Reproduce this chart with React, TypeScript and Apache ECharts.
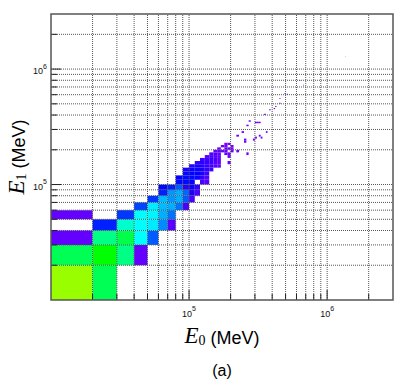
import React, { useEffect, useRef } from 'react';
import * as echarts from 'echarts';

// Histogram binning (MeV)
const BIN_WIDTH = 1e4;
const X_MIN = 1e4;
const X_MAX = 3e6;
const Y_MIN = 1e4;
const Y_MAX = 3e6;

// Grid-line / tick values (log axes, decades 1..9)
const gridValuesX = [2e4, 3e4, 4e4, 5e4, 6e4, 7e4, 8e4, 9e4, 1e5, 2e5, 3e5, 4e5, 5e5, 6e5, 7e5, 8e5, 9e5, 1e6, 2e6];
const gridValuesY = [2e4, 3e4, 4e4, 5e4, 6e4, 7e4, 8e4, 9e4, 1e5, 2e5, 3e5, 4e5, 5e5, 6e5, 7e5, 8e5, 9e5, 1e6, 2e6];
const majorTickValues = [1e5, 1e6];

// Cells: [E0 bin index, E1 bin index, content (relative)]; bin k spans [k*1e4, (k+1)*1e4) MeV
const cellsLow: number[][] = [
  [1, 1, 70], [2, 1, 50],
  [1, 2, 50], [2, 2, 57], [3, 2, 46], [4, 2, 6],
  [1, 3, 6], [2, 3, 46], [3, 3, 51], [4, 3, 36], [5, 3, 22],
  [2, 4, 17], [3, 4, 40], [4, 4, 36], [5, 4, 34], [6, 4, 26], [7, 4, 7],
  [1, 5, 6], [3, 5, 19], [4, 5, 36], [5, 5, 35], [6, 5, 29], [7, 5, 24],
];
const cellsRidge: number[][] = [
  [4, 6, 20], [5, 6, 34], [6, 6, 30], [7, 6, 29], [8, 6, 24], [9, 6, 8],
  [5, 7, 19], [6, 7, 30], [7, 7, 27], [8, 7, 29], [9, 7, 22], [10, 7, 8],
  [6, 8, 17], [7, 8, 27], [8, 8, 29], [9, 8, 23], [10, 8, 12], [11, 8, 8],
  [6, 9, 15], [7, 9, 17], [8, 9, 22], [9, 9, 11], [10, 9, 13], [11, 9, 10],
  [8, 10, 15], [9, 10, 15], [10, 10, 14], [12, 10, 8], [13, 10, 7],
  [8, 11, 14], [9, 11, 15], [10, 11, 15], [11, 11, 13], [12, 11, 10], [13, 11, 7],
  [9, 12, 15], [10, 12, 14], [11, 12, 14], [12, 12, 12], [13, 12, 9],
  [9, 13, 12], [10, 13, 14], [11, 13, 13], [12, 13, 12], [13, 13, 10], [14, 13, 9],
  [10, 14, 11], [11, 14, 13], [12, 14, 11], [13, 14, 10], [14, 14, 9], [15, 14, 7], [16, 14, 6],
  [11, 15, 10], [12, 15, 11], [13, 15, 10], [14, 15, 9], [15, 15, 7], [16, 15, 6], [19, 15, 5],
  [12, 16, 9], [13, 16, 9], [14, 16, 9], [15, 16, 8], [16, 16, 6],
  [13, 17, 7], [14, 17, 8], [15, 17, 7], [16, 17, 6], [19, 17, 5],
  [14, 18, 7], [15, 18, 8], [16, 18, 6], [18, 18, 5], [19, 18, 5], [26, 18, 5],
  [15, 19, 6], [16, 19, 7], [17, 19, 5], [18, 19, 6], [20, 19, 5], [22, 19, 5],
  [16, 20, 5], [18, 20, 5], [19, 20, 5], [20, 20, 4],
  [17, 21, 5], [18, 21, 4], [20, 21, 5],
  [18, 22, 4], [19, 22, 4],
];
const cellsHigh: number[][] = [
  [25, 23, 5], [25, 24, 5], [29, 24, 5], [30, 25, 5], [33, 25, 5], [22, 26, 5], [32, 26, 5],
  [24, 28, 5], [36, 28, 5], [26, 32, 5], [30, 34, 5], [31, 34, 5], [32, 34, 5], [27, 35, 5],
  [35, 40, 5], [38, 44, 5], [41, 45, 5], [42, 47, 5], [45, 50, 5], [45, 55, 5],
  [51, 60, 5], [49, 61, 5], [67, 72, 4], [63, 79, 4], [74, 84, 4], [135, 128, 3], [173, 191, 2],
];

// ROOT "pretty" palette (violet -> red)
const palette = ['#aa00ff', '#5500ff', '#0000ff', '#0055ff', '#00aaff', '#00ffff', '#00ffaa', '#00ff55',
  '#00ff00', '#55ff00', '#aaff00', '#ffff00', '#ffaa00', '#ff5500', '#ff0000'];

const SANS = 'Liberation Sans';
const SERIF = 'Liberation Serif';

function powLabel(v: number, minV: number) {
  const e = Math.log10(v);
  if (v <= minV * 1.01 || Math.abs(e - Math.round(e)) > 1e-6) return '';
  return `{b|10}{s|${Math.round(e)}}`;
}

const labelRich = {
  b: { fontSize: 9, fontFamily: SANS, color: '#111', lineHeight: 13, verticalAlign: 'bottom' },
  s: { fontSize: 7, fontFamily: SANS, color: '#111', lineHeight: 13, verticalAlign: 'top' },
};

const nameRich = {
  e: { fontSize: 23, fontFamily: SERIF, fontStyle: 'italic', color: '#000', lineHeight: 24, verticalAlign: 'middle' },
  sub: { fontSize: 14, fontFamily: SERIF, color: '#000', lineHeight: 14, verticalAlign: 'bottom' },
  u: { fontSize: 18, fontFamily: SANS, color: '#000', lineHeight: 20, verticalAlign: 'bottom' },
};

export default function App() {
  const ref = useRef<HTMLDivElement>(null);
  useEffect(() => {
    if (!ref.current) return;
    const chart = echarts.init(ref.current, undefined, { renderer: 'svg' });
    const allCells = [...cellsLow, ...cellsRidge, ...cellsHigh];
    const cellData = allCells.map(([i, j, v]) => [i * BIN_WIDTH, (i + 1) * BIN_WIDTH, j * BIN_WIDTH, (j + 1) * BIN_WIDTH, v]);

    const option: any = {
      animation: false,
      textStyle: { fontFamily: SANS },
      grid: {
        left: 51, right: 22, top: 14, bottom: 85,
        outerBoundsMode: 'none', containLabel: false,
        show: true, z: 5, borderColor: '#555', borderWidth: 1.5, backgroundColor: 'rgba(0,0,0,0)',
      },
      visualMap: {
        type: 'continuous', show: false, min: 0, max: 100, dimension: 4, seriesIndex: 0,
        inRange: { color: palette },
      },
      xAxis: {
        type: 'log', logBase: 10, min: X_MIN, max: X_MAX,
        axisLine: { show: false }, axisTick: { show: false }, splitLine: { show: false },
        axisLabel: { formatter: (v: number) => powLabel(v, X_MIN), rich: labelRich, margin: 5 },
        name: '{e|E}{sub|0}{u| (MeV)}',
        nameLocation: 'middle', nameGap: 23, nameMoveOverlap: false,
        nameTextStyle: { rich: nameRich },
      },
      yAxis: {
        type: 'log', logBase: 10, min: Y_MIN, max: Y_MAX,
        axisLine: { show: false }, axisTick: { show: false }, splitLine: { show: false },
        axisLabel: { formatter: (v: number) => powLabel(v, Y_MIN), rich: labelRich, margin: 4 },
        name: '{e|E}{sub|1}{u| (MeV)}',
        nameLocation: 'middle', nameGap: 23, nameMoveOverlap: false,
        nameTextStyle: { rich: nameRich },
      },
      graphic: [
        { type: 'text', x: 222, y: 370, style: { text: '(a)', font: `16px "${SANS}"`, fill: '#000', textAlign: 'center', textVerticalAlign: 'middle' } },
      ],
      series: [
        {
          type: 'custom',
          data: cellData,
          encode: { x: [0, 1], y: [2, 3] },
          z: 2,
          renderItem: (params: any, api: any) => {
            const p0 = api.coord([api.value(0), api.value(2)]);
            const p1 = api.coord([api.value(1), api.value(3)]);
            return {
              type: 'rect',
              shape: { x: p0[0], y: p1[1], width: p1[0] - p0[0], height: p0[1] - p1[1] },
              style: { fill: api.visual('color') },
            };
          },
        },
        {
          type: 'custom',
          data: gridValuesX.map((v) => [v, Y_MIN, Y_MAX]),
          encode: { x: 0, y: [1, 2] },
          z: 3,
          silent: true,
          renderItem: (params: any, api: any) => {
            const v = api.value(0);
            const pb = api.coord([v, api.value(1)]);
            const pt = api.coord([v, api.value(2)]);
            const len = majorTickValues.includes(v) ? 10 : 6;
            return {
              type: 'group',
              children: [
                { type: 'line', shape: { x1: pb[0], y1: pb[1], x2: pt[0], y2: pt[1] }, style: { stroke: '#555', lineWidth: 1, lineDash: [1, 1] } },
                { type: 'line', shape: { x1: pb[0], y1: pb[1], x2: pb[0], y2: pb[1] - len }, style: { stroke: '#222', lineWidth: 1 } },
              ],
            };
          },
        },
        {
          type: 'custom',
          data: gridValuesY.map((v) => [X_MIN, X_MAX, v]),
          encode: { x: [0, 1], y: 2 },
          z: 3,
          silent: true,
          renderItem: (params: any, api: any) => {
            const v = api.value(2);
            const pl = api.coord([api.value(0), v]);
            const pr = api.coord([api.value(1), v]);
            const len = majorTickValues.includes(v) ? 10 : 6;
            return {
              type: 'group',
              children: [
                { type: 'line', shape: { x1: pl[0], y1: pl[1], x2: pr[0], y2: pr[1] }, style: { stroke: '#555', lineWidth: 1, lineDash: [1, 1] } },
                { type: 'line', shape: { x1: pl[0], y1: pl[1], x2: pl[0] + len, y2: pl[1] }, style: { stroke: '#222', lineWidth: 1 } },
              ],
            };
          },
        },
      ],
    };
    chart.setOption(option);
    return () => chart.dispose();
  }, []);
  return <div ref={ref} style={{ position: 'fixed', left: 0, top: 0, width: 415, height: 385, background: '#fff' }} />;
}
